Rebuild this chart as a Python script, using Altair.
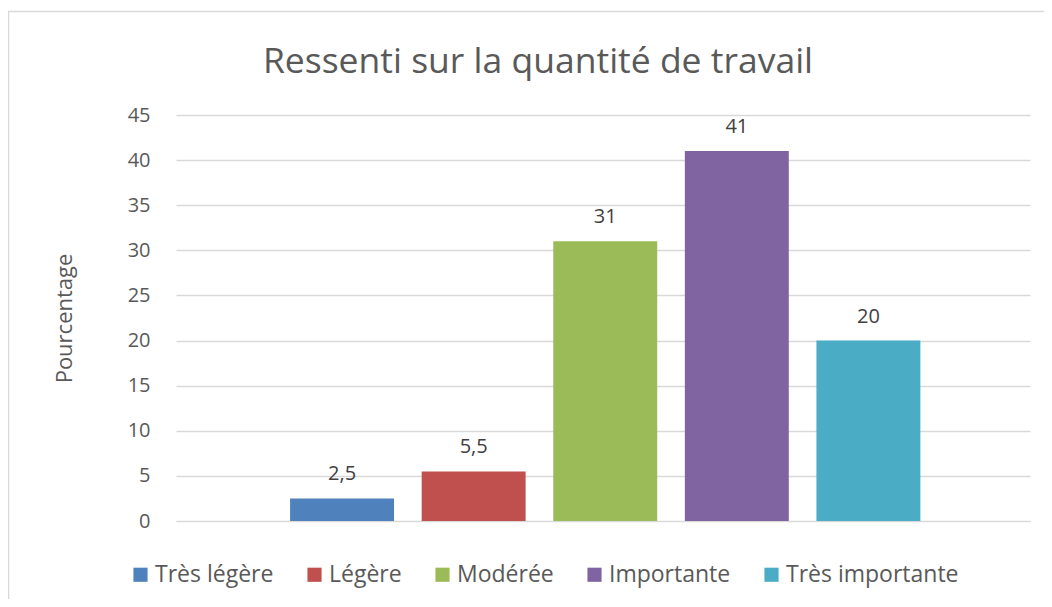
import altair as alt
import pandas as pd

categories = ["Très légère", "Légère", "Modérée", "Importante", "Très importante"]
values = [2.5, 5.5, 31, 41, 20]
colors = ["#4F81BD", "#C0504D", "#9BBB59", "#8064A2", "#4BACC6"]
y_ticks = [0, 5, 10, 15, 20, 25, 30, 35, 40, 45]

FONT = "Open Sans"
GRAY = "#595959"

df = pd.DataFrame({"categorie": categories, "pourcentage": values})

x_enc = alt.X(
    "categorie:N",
    sort=categories,
    scale=alt.Scale(paddingInner=0.21, paddingOuter=0.85, align=0.51),
    axis=alt.Axis(labels=False, ticks=False, title=None, domain=True,
                  domainColor="#D9D9D9", grid=False),
)
y_enc = alt.Y(
    "pourcentage:Q",
    scale=alt.Scale(domain=[0, 45], nice=False),
    axis=alt.Axis(values=y_ticks, title="Pourcentage", grid=True, gridColor="#D9D9D9",
                  gridWidth=1.5, domain=False, ticks=False, labelFontSize=20,
                  labelColor=GRAY, labelFont=FONT, labelPadding=26,
                  titleFontSize=22, titleColor=GRAY, titleFont=FONT,
                  titleFontWeight="normal", titlePadding=51),
)

base = alt.Chart(df)

bars = base.mark_bar().encode(
    x=x_enc,
    y=y_enc,
    color=alt.Color(
        "categorie:N",
        sort=categories,
        scale=alt.Scale(domain=categories, range=colors),
        legend=alt.Legend(
            title=None, orient="none", direction="horizontal", columns=5,
            legendX=-47, legendY=448, symbolType="square", symbolSize=200,
            symbolStrokeWidth=0, labelFontSize=23, labelColor=GRAY, labelFont=FONT,
            labelOffset=3, columnPadding=29, labelLimit=400,
        ),
    ),
)

labels = base.transform_calculate(
    lab="replace(toString(datum.pourcentage), '.', ',')"
).mark_text(dy=-18, baseline="alphabetic", fontSize=20, font=FONT, color="#404040").encode(
    x=alt.X("categorie:N", sort=categories),
    y="pourcentage:Q",
    text="lab:N",
)

border = alt.Chart(pd.DataFrame({"a": [0]})).mark_rect(
    fillOpacity=0, stroke="#D9D9D9", strokeWidth=1.5
).encode(
    x=alt.value(-167.5), x2=alt.value(900), y=alt.value(-103.5), y2=alt.value(600)
)

chart = alt.layer(border, bars, labels).properties(
    width=854,
    height=406,
    title=alt.TitleParams(
        "Ressenti sur la quantité de travail", fontSize=35.5, font=FONT, color=GRAY,
        fontWeight="normal", frame="group", anchor="middle", dx=-65, offset=-98,
        baseline="alphabetic",
    ),
    autosize=alt.AutoSizeParams(type="none"),
    padding={"left": 168, "top": 107, "right": 14, "bottom": 78},
).configure_view(stroke=None)

chart.save("out.html", embed_options={"renderer": "svg", "actions": False})
